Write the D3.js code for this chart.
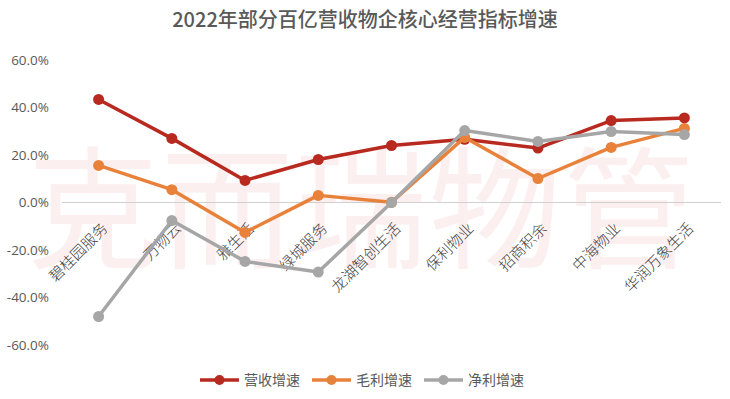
<!DOCTYPE html>
<html>
<head>
<meta charset="utf-8">
<script src="https://cdn.jsdelivr.net/npm/d3@7"></script>
<style>
  body { margin: 0; background: #fff; }
  svg { display: block; font-family: "Noto Sans CJK SC", "Noto Sans", sans-serif; }
</style>
</head>
<body>
<svg class="chart" width="730" height="399"></svg>
<script>
const companies = ['碧桂园服务', '万物云', '雅生活', '绿城服务', '龙湖智创生活', '保利物业', '招商积余', '中海物业', '华润万象生活'];
const revenueGrowth = [43.4, 27.0, 9.3, 18.1, 24.0, 26.6, 22.9, 34.5, 35.6];
const grossGrowth = [15.6, 5.4, -12.6, 3.0, 0.1, 27.4, 10.1, 23.2, 31.2];
const netGrowth = [-48.0, -7.6, -24.8, -29.3, 0.0, 30.3, 25.7, 29.9, 28.6];
const yTicks = [-60, -40, -20, 0, 20, 40, 60];

const seriesList = [
  {name: '营收增速', values: revenueGrowth, color: '#b8291f'},
  {name: '毛利增速', values: grossGrowth, color: '#e8823b'},
  {name: '净利增速', values: netGrowth, color: '#a6a6a6'}
];

const svg = d3.select('.chart');

//watermark behind everything
svg.append('text')
  .attr('x', 362).attr('y', 258)
  .attr('text-anchor', 'middle')
  .attr('font-size', 132)
  .attr('font-weight', 400)
  .attr('letter-spacing', 2)
  .attr('fill', '#fcefef')
  .text('克而瑞物管');

svg.append('text')
  .attr('x', 365).attr('y', 27)
  .attr('text-anchor', 'middle')
  .attr('font-size', 20)
  .attr('font-weight', 500)
  .attr('fill', '#595959')
  .text('2022年部分百亿营收物企核心经营指标增速');

const x = d3.scaleBand().domain(companies).range([62, 721]);
const y = d3.scaleLinear().domain([-60, 60]).range([345, 60]);

//y axis labels, no line
const yAxis = svg.append('g')
  .attr('transform', 'translate(52,0)')
  .call(d3.axisLeft(y).tickValues(yTicks).tickSize(0).tickFormat(d => d.toFixed(1) + '%'));
yAxis.select('.domain').remove();
yAxis.selectAll('text')
  .attr('font-size', 13.5)
  .attr('fill', '#595959')
  .attr('font-family', '"Open Sans", "Noto Sans", sans-serif');

//zero line
svg.append('line')
  .attr('x1', 62).attr('x2', 721)
  .attr('y1', y(0)).attr('y2', y(0))
  .attr('stroke', '#d0d0d0')
  .attr('stroke-width', 1);

//category labels, rotated
svg.append('g').selectAll('text')
  .data(companies)
  .enter().append('text')
  .attr('transform', d => `translate(${x(d) + x.bandwidth() / 2 + 10},${y(0) + 27}) rotate(-45)`)
  .attr('text-anchor', 'end')
  .attr('font-size', 15)
  .attr('font-weight', 300)
  .attr('fill', '#404040')
  .text(d => d);

const lineGen = d3.line()
  .x((d, i) => x(companies[i]) + x.bandwidth() / 2)
  .y(d => y(d));

seriesList.forEach(s => {
  svg.append('path')
    .attr('d', lineGen(s.values))
    .attr('fill', 'none')
    .attr('stroke', s.color)
    .attr('stroke-width', 3.5)
    .attr('stroke-linejoin', 'round');

  svg.append('g').selectAll('circle')
    .data(s.values)
    .enter().append('circle')
    .attr('cx', (d, i) => x(companies[i]) + x.bandwidth() / 2)
    .attr('cy', d => y(d))
    .attr('r', 5.5)
    .attr('fill', s.color);
});

//legend
const legendX = [200, 312, 424];
const legend = svg.append('g').selectAll('g')
  .data(seriesList)
  .enter().append('g')
  .attr('transform', (d, i) => `translate(${legendX[i]},380)`);
legend.append('line')
  .attr('x1', 0).attr('x2', 39)
  .attr('stroke', d => d.color)
  .attr('stroke-width', 3.5);
legend.append('circle')
  .attr('cx', 19.5).attr('r', 5)
  .attr('fill', d => d.color);
legend.append('text')
  .attr('x', 44).attr('y', 5)
  .attr('font-size', 14)
  .attr('fill', '#595959')
  .text(d => d.name);
</script>
</body>
</html>
